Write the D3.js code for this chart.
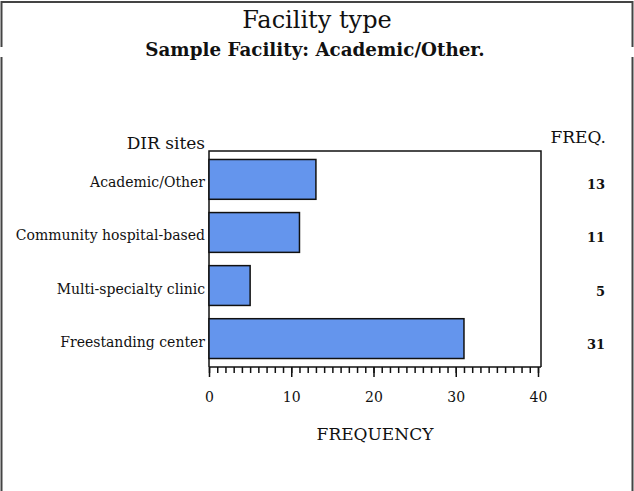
<!DOCTYPE html>
<html>
<head>
<meta charset="utf-8">
<script src="https://cdn.jsdelivr.net/npm/d3@7"></script>
<style>
  body { margin: 0; background: #fff; }
  text { font-family: "DejaVu Serif", "Liberation Serif", serif; fill: #111; }
</style>
</head>
<body>
<div id="chart"></div>
<script>

var categories = ["Academic/Other", "Community hospital-based", "Multi-specialty clinic", "Freestanding center"];
var freqValues = [13, 11, 5, 31];
var majorTicks = [0, 10, 20, 30, 40];

var svgWidth = 634;
var svgHeight = 491;

// box: top, axis line, left edge, right edge
var plot = { left: 209, right: 541, top: 151, bottom: 367 };

var svg = d3.select("#chart")
  .append("svg")
  .attr("width", svgWidth)
  .attr("height", svgHeight);

// outer frame, no bottom line, small breaks on the sides
svg.append("path")
  .attr("d", "M1.5,47 L1.5,2 L632.5,2 L632.5,47 M1.5,57 L1.5,491 M632.5,57 L632.5,491")
  .attr("fill", "none")
  .attr("stroke", "#444")
  .attr("stroke-width", 2);

svg.append("text")
  .attr("x", 317).attr("y", 28)
  .attr("text-anchor", "middle")
  .style("font-size", "24px")
  .text("Facility type");

svg.append("text")
  .attr("x", 315).attr("y", 56)
  .attr("text-anchor", "middle")
  .style("font-size", "18.3px")
  .style("font-weight", "bold")
  .text("Sample Facility: Academic/Other.");

var xScale = d3.scaleLinear()
  .domain([0, 40])
  .range([209, 538]);

var yScale = d3.scaleBand()
  .domain(categories)
  .range([plot.top, plot.bottom])
  .paddingInner(0.25)
  .paddingOuter(0.16);

// plot box (open at the bottom, axis line closes it)
svg.append("path")
  .attr("d", `M${plot.left},${plot.bottom} V${plot.top} H${plot.right} V${plot.bottom}`)
  .attr("fill", "none")
  .attr("stroke", "#111")
  .attr("stroke-width", 1.5);

// bars
svg.selectAll("rect.bar")
  .data(categories)
  .enter()
  .append("rect")
  .attr("class", "bar")
  .attr("x", xScale(0))
  .attr("y", d => yScale(d))
  .attr("width", (d, i) => xScale(freqValues[i]) - xScale(0))
  .attr("height", yScale.bandwidth())
  .attr("fill", "#6495ed")
  .attr("stroke", "#111")
  .attr("stroke-width", 1.5);

// category labels
svg.selectAll("text.cat")
  .data(categories)
  .enter()
  .append("text")
  .attr("class", "cat")
  .attr("x", plot.left - 4)
  .attr("y", d => yScale(d) + yScale.bandwidth() / 2 + 8)
  .attr("text-anchor", "end")
  .style("font-size", "14px")
  .text(d => d);

// frequency column
svg.selectAll("text.freq")
  .data(categories)
  .enter()
  .append("text")
  .attr("class", "freq")
  .attr("x", 605)
  .attr("y", d => yScale(d) + yScale.bandwidth() / 2 + 10)
  .attr("text-anchor", "end")
  .style("font-size", "13px")
  .style("font-weight", "bold")
  .text((d, i) => freqValues[i]);

svg.append("text")
  .attr("x", 205).attr("y", 149)
  .attr("text-anchor", "end")
  .style("font-size", "17px")
  .text("DIR sites");

svg.append("text")
  .attr("x", 606).attr("y", 143)
  .attr("text-anchor", "end")
  .style("font-size", "17px")
  .text("FREQ.");

// x axis: minor ticks every unit, major every 10
var minorAxis = d3.axisBottom(xScale)
  .tickValues(d3.range(0, 41, 1))
  .tickSize(6)
  .tickFormat("");

var majorAxis = d3.axisBottom(xScale)
  .tickValues(majorTicks)
  .tickSize(10)
  .tickPadding(15)
  .tickFormat(d3.format("d"));

svg.append("g")
  .attr("transform", `translate(0, ${plot.bottom})`)
  .call(minorAxis)
  .call(g => g.select(".domain").remove())
  .call(g => g.selectAll("line").attr("stroke", "#111").attr("stroke-width", 1.5));

svg.append("g")
  .attr("transform", `translate(0, ${plot.bottom})`)
  .call(majorAxis)
  .call(g => g.select(".domain").attr("stroke", "#111").attr("stroke-width", 1.5).attr("d", `M${plot.left},0H${plot.right}`))
  .call(g => g.selectAll("line").attr("stroke", "#111").attr("stroke-width", 1.5))
  .call(g => g.selectAll("text").style("font-size", "14px").style("font-family", "DejaVu Serif, serif").attr("fill", "#111"));

svg.append("text")
  .attr("x", 375).attr("y", 440)
  .attr("text-anchor", "middle")
  .style("font-size", "17px")
  .text("FREQUENCY");

</script>
</body>
</html>
